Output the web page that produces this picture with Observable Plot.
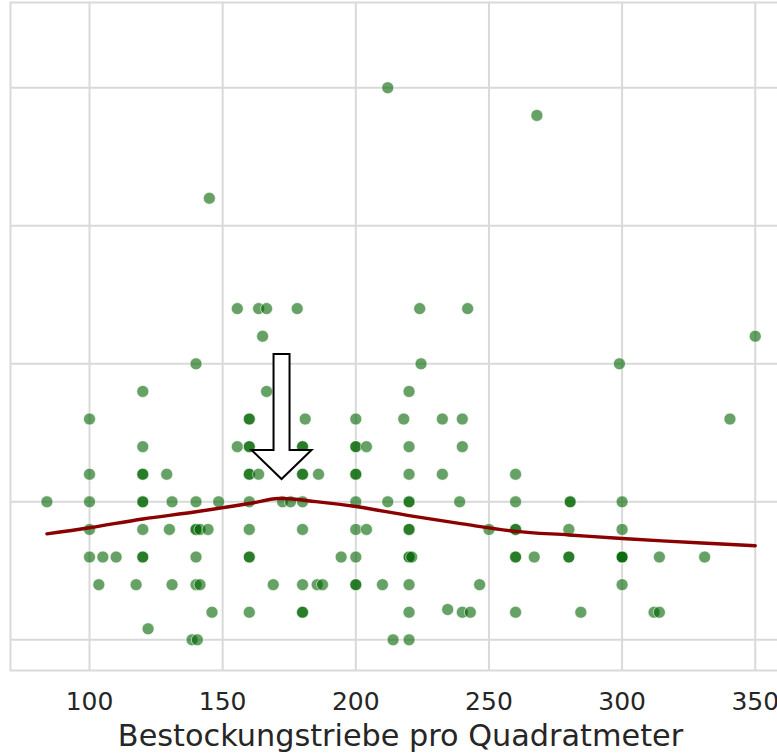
<!DOCTYPE html>
<html>
<head>
<meta charset="utf-8">
<script src="https://cdn.jsdelivr.net/npm/d3@7"></script>
<script src="https://cdn.jsdelivr.net/npm/@observablehq/plot@0.6"></script>
<style>
  html, body { margin: 0; padding: 0; background: #ffffff; }
</style>
</head>
<body>
<div id="chart"></div>
<script>
// ---- data ----
// x: Bestockungstriebe pro Quadratmeter, y: response (arbitrary units; y axis labels not shown)
const triebe = [
  212,
  268,
  145,
  155.5, 163.5, 166.5, 178, 224, 242,
  165, 350,
  140, 224.5, 299,
  120, 166.5, 220,
  100, 160, 160, 181, 200, 218, 232.5, 240, 340.5,
  120, 155.5, 160, 160, 180, 180, 200, 200, 204, 220, 240,
  100, 120, 120, 129, 160, 160, 163.5, 180, 180, 186, 200, 200, 220, 232.5, 260,
  84, 100, 120, 120, 131, 140, 148.5, 160, 172.5, 175.5, 180, 200, 212, 220, 220, 239, 260, 280.5, 280.5, 300,
  100, 120, 130, 140, 140, 141.5, 144.5, 160, 180, 200, 204, 220, 220, 250, 260, 260, 280, 300,
  100, 105, 110, 120, 120, 140, 160, 160, 194.5, 200, 220, 220, 221, 260, 260, 267, 280, 280, 300, 300, 300, 314, 331,
  103.5, 117.5, 131, 140, 141.5, 169, 180, 185.5, 187.5, 200, 200, 210, 220, 246.5, 300,
  146, 160, 180, 180, 220, 234.5, 240, 243, 260, 284.5, 312, 314,
  122,
  138.5, 140.5, 214, 220
];
const werte = [
  20,
  19,
  16,
  12, 12, 12, 12, 12, 12,
  11, 11,
  10, 10, 10,
  9, 9, 9,
  8, 8, 8, 8, 8, 8, 8, 8, 8,
  7, 7, 7, 7, 7, 7, 7, 7, 7, 7, 7,
  6, 6, 6, 6, 6, 6, 6, 6, 6, 6, 6, 6, 6, 6, 6,
  5, 5, 5, 5, 5, 5, 5, 5, 5, 5, 5, 5, 5, 5, 5, 5, 5, 5, 5, 5,
  4, 4, 4, 4, 4, 4, 4, 4, 4, 4, 4, 4, 4, 4, 4, 4, 4, 4,
  3, 3, 3, 3, 3, 3, 3, 3, 3, 3, 3, 3, 3, 3, 3, 3, 3, 3, 3, 3, 3, 3, 3,
  2, 2, 2, 2, 2, 2, 2, 2, 2, 2, 2, 2, 2, 2, 2,
  1, 1, 1, 1, 1, 1.1, 1, 1, 1, 1, 1, 1,
  0.4,
  0, 0, 0, 0
];
// smoothed trend line
const trendX = [84, 100, 120, 140, 160, 171, 185, 200, 220, 240, 260, 280, 300, 330, 350];
const trendY = [3.84, 4.06, 4.38, 4.64, 4.94, 5.12, 5.01, 4.83, 4.5, 4.2, 3.93, 3.8, 3.67, 3.51, 3.41];
// ticks / labels
const xTicks = [100, 150, 200, 250, 300, 350];
const yGrid = [0, 5, 10, 15, 20];
const xLabel = "Bestockungstriebe pro Quadratmeter";
// annotation arrow (data units)
const arrowX = [172.3];
const arrowFrom = [10.34];
const arrowTo = [5.81];

// ---- build ----
const points = triebe.map((x, i) => ({x, y: werte[i]}));
const trend = trendX.map((x, i) => ({x, y: trendY[i]}));

const gridColor = "#d9d9d9";
const textColor = "#262626";

const chart = Plot.plot({
  width: 777,
  height: 753,
  marginLeft: 10,
  marginRight: -13,
  marginTop: 2,
  marginBottom: 83,
  style: {fontFamily: "DejaVu Sans", background: "#ffffff", color: textColor},
  x: {domain: [70.33, 363.24], label: null},
  y: {domain: [-1.11, 23.09], axis: null, label: null},
  marks: [
    Plot.gridX({ticks: xTicks, stroke: gridColor, strokeOpacity: 1, strokeWidth: 2}),
    Plot.gridY({ticks: yGrid, stroke: gridColor, strokeOpacity: 1, strokeWidth: 2}),
    Plot.frame({stroke: gridColor, strokeWidth: 2}),
    Plot.axisX({ticks: xTicks, tickSize: 0, tickPadding: 22, fontSize: 25, label: null, fill: textColor}),
    Plot.dot(points, {x: "x", y: "y", r: 6, fill: "#006400", fillOpacity: 0.6, stroke: "#ffffff", strokeWidth: 0.6}),
    Plot.line(trend, {x: "x", y: "y", stroke: "#8b0000", strokeWidth: 3.4, curve: "catmull-rom"}),
    Plot.text([xLabel], {frameAnchor: "bottom", dy: 75, lineAnchor: "bottom", text: d => d, fontSize: 30.3, fill: textColor})
  ]
});

document.getElementById("chart").appendChild(chart);

// block arrow annotation, positioned through the plot's own scales
const svg = chart.tagName.toLowerCase() === "svg" ? chart : chart.querySelector("svg");
const sx = chart.scale("x"), sy = chart.scale("y");
arrowX.forEach((ax, i) => {
  const cx = sx.apply(ax), y0 = sy.apply(arrowFrom[i]), y1 = sy.apply(arrowTo[i]);
  const sw = 8, hw = 30, hl = 29;
  const d = `M${cx - sw},${y0} L${cx + sw},${y0} L${cx + sw},${y1 - hl} L${cx + hw},${y1 - hl} L${cx},${y1} L${cx - hw},${y1 - hl} L${cx - sw},${y1 - hl} Z`;
  d3.select(svg).append("path")
    .attr("d", d)
    .attr("fill", "#ffffff")
    .attr("stroke", "#000000")
    .attr("stroke-width", 2)
    .attr("stroke-linejoin", "miter");
});
</script>
</body>
</html>
